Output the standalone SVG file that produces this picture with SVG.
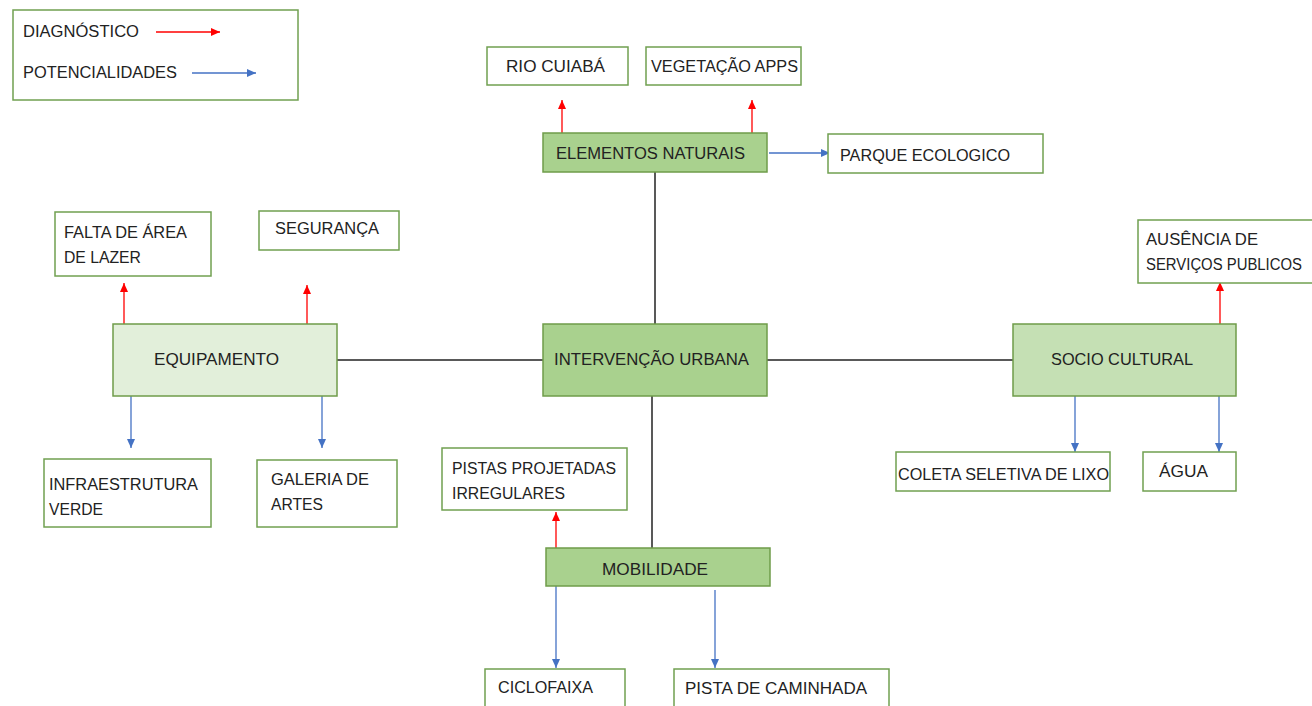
<svg xmlns="http://www.w3.org/2000/svg" width="1312" height="706" viewBox="0 0 1312 706">
<style>
text{font-family:"Liberation Sans",Arial,sans-serif;font-size:16px;fill:#222}
.box{fill:#fff;stroke:#70a050;stroke-width:1.5}
.main{fill:#a9d18e;stroke:#6f9c4a;stroke-width:1.5}
.light{fill:#e2efda;stroke:#6f9c4a;stroke-width:1.5}
.mid{fill:#c5e0b4;stroke:#6f9c4a;stroke-width:1.5}
.link{stroke:#222;stroke-width:1.5;fill:none}
.red{stroke:#ff0000;stroke-width:1.3;fill:none;marker-end:url(#ar)}
.blue{stroke:#4472c4;stroke-width:1.3;fill:none;marker-end:url(#ab)}
</style>
<defs>
<marker id="ar" markerUnits="userSpaceOnUse" markerWidth="10" markerHeight="10" refX="9" refY="4" orient="auto"><path d="M0,0 L9,4 L0,8 Z" fill="#ff0000"/></marker>
<marker id="ab" markerUnits="userSpaceOnUse" markerWidth="10" markerHeight="10" refX="9" refY="4" orient="auto"><path d="M0,0 L9,4 L0,8 Z" fill="#4472c4"/></marker>
</defs>
<rect width="1312" height="706" fill="#fff"/>

<g id="legend">
<rect class="box" x="13" y="10" width="285" height="90"/>
<text x="23" y="37" textLength="116" lengthAdjust="spacingAndGlyphs">DIAGNÓSTICO</text>
<line class="red" x1="156" y1="32" x2="220" y2="32"/>
<text x="23" y="78" textLength="154" lengthAdjust="spacingAndGlyphs">POTENCIALIDADES</text>
<line class="blue" x1="192" y1="73" x2="256" y2="73"/>
</g>

<g id="connectors">
<line class="link" x1="655" y1="172" x2="655" y2="324"/>
<line class="link" x1="337" y1="360" x2="543" y2="360"/>
<line class="link" x1="767" y1="360" x2="1013" y2="360"/>
<line class="link" x1="652" y1="396" x2="652" y2="548"/>
<line class="red" x1="562" y1="133" x2="562" y2="100"/>
<line class="red" x1="752" y1="133" x2="752" y2="100"/>
<line class="blue" x1="769" y1="153" x2="830" y2="153"/>
<line class="red" x1="124" y1="324" x2="124" y2="283"/>
<line class="red" x1="307" y1="324" x2="307" y2="285"/>
<line class="blue" x1="131" y1="396" x2="131" y2="448"/>
<line class="blue" x1="322" y1="396" x2="322" y2="448"/>
<line class="red" x1="1220" y1="324" x2="1220" y2="282"/>
<line class="blue" x1="1075" y1="396" x2="1075" y2="452"/>
<line class="blue" x1="1219" y1="396" x2="1219" y2="452"/>
<line class="red" x1="556" y1="548" x2="556" y2="512"/>
<line class="blue" x1="556" y1="586" x2="556" y2="668"/>
<line class="blue" x1="715" y1="590" x2="715" y2="668"/>
</g>

<g id="rio-cuiaba"><rect class="box" x="487" y="47" width="141" height="38"/><text x="506" y="72" textLength="99" lengthAdjust="spacingAndGlyphs">RIO CUIABÁ</text></g>
<g id="vegetacao-apps"><rect class="box" x="646" y="47" width="155" height="38"/><text x="651" y="72" textLength="147" lengthAdjust="spacingAndGlyphs">VEGETAÇÃO APPS</text></g>
<g id="elementos-naturais"><rect class="main" x="543" y="133" width="224" height="39"/><text x="556" y="159" textLength="189" lengthAdjust="spacingAndGlyphs">ELEMENTOS NATURAIS</text></g>
<g id="parque-ecologico"><rect class="box" x="828" y="134" width="215" height="39"/><text x="840" y="161" textLength="170" lengthAdjust="spacingAndGlyphs">PARQUE ECOLOGICO</text></g>

<g id="falta-area-lazer"><rect class="box" x="55" y="212" width="156" height="64"/><text x="64" y="238" textLength="123" lengthAdjust="spacingAndGlyphs">FALTA DE ÁREA</text><text x="64" y="263" textLength="77" lengthAdjust="spacingAndGlyphs">DE LAZER</text></g>
<g id="seguranca"><rect class="box" x="259" y="211" width="140" height="39"/><text x="275" y="234" textLength="104" lengthAdjust="spacingAndGlyphs">SEGURANÇA</text></g>
<g id="equipamento"><rect class="light" x="113" y="324" width="224" height="72"/><text x="154" y="365" textLength="125" lengthAdjust="spacingAndGlyphs">EQUIPAMENTO</text></g>
<g id="infraestrutura-verde"><rect class="box" x="44" y="459" width="167" height="68"/><text x="49" y="490" textLength="149" lengthAdjust="spacingAndGlyphs">INFRAESTRUTURA</text><text x="49" y="515" textLength="54" lengthAdjust="spacingAndGlyphs">VERDE</text></g>
<g id="galeria-artes"><rect class="box" x="257" y="460" width="140" height="67"/><text x="271" y="485" textLength="98" lengthAdjust="spacingAndGlyphs">GALERIA DE</text><text x="271" y="510" textLength="52" lengthAdjust="spacingAndGlyphs">ARTES</text></g>

<g id="intervencao-urbana"><rect class="main" x="543" y="324" width="224" height="72"/><text x="554" y="365" textLength="195" lengthAdjust="spacingAndGlyphs">INTERVENÇÃO URBANA</text></g>

<g id="socio-cultural"><rect class="mid" x="1013" y="324" width="223" height="72"/><text x="1051" y="365" textLength="142" lengthAdjust="spacingAndGlyphs">SOCIO CULTURAL</text></g>
<g id="ausencia-servicos"><rect class="box" x="1138" y="220" width="182" height="63"/><text x="1146" y="245" textLength="112" lengthAdjust="spacingAndGlyphs">AUSÊNCIA DE</text><text x="1146" y="270" textLength="156" lengthAdjust="spacingAndGlyphs">SERVIÇOS PUBLICOS</text></g>
<g id="coleta-seletiva"><rect class="box" x="896" y="452" width="214" height="39"/><text x="898" y="480" textLength="211" lengthAdjust="spacingAndGlyphs">COLETA SELETIVA DE LIXO</text></g>
<g id="agua"><rect class="box" x="1143" y="452" width="93" height="39"/><text x="1159" y="477" textLength="49" lengthAdjust="spacingAndGlyphs">ÁGUA</text></g>

<g id="pistas-projetadas"><rect class="box" x="442" y="448" width="185" height="62"/><text x="452" y="474" textLength="164" lengthAdjust="spacingAndGlyphs">PISTAS PROJETADAS</text><text x="452" y="499" textLength="113" lengthAdjust="spacingAndGlyphs">IRREGULARES</text></g>
<g id="mobilidade"><rect class="main" x="546" y="548" width="224" height="38"/><text x="602" y="575" textLength="106" lengthAdjust="spacingAndGlyphs">MOBILIDADE</text></g>
<g id="ciclofaixa"><rect class="box" x="485" y="669" width="140" height="45"/><text x="498" y="693" textLength="95" lengthAdjust="spacingAndGlyphs">CICLOFAIXA</text></g>
<g id="pista-caminhada"><rect class="box" x="674" y="669" width="215" height="45"/><text x="685" y="694" textLength="182" lengthAdjust="spacingAndGlyphs">PISTA DE CAMINHADA</text></g>
</svg>
